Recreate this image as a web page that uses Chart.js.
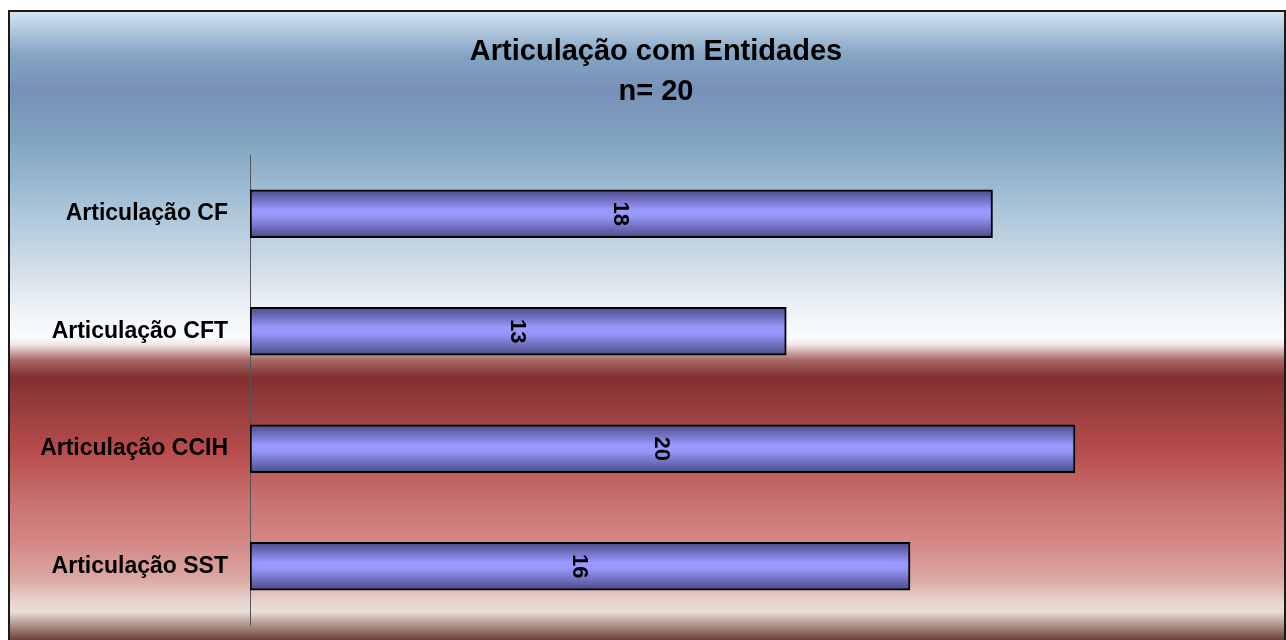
<!DOCTYPE html>
<html>
<head>
<meta charset="utf-8">
<script src="https://cdn.jsdelivr.net/npm/chart.js@4/dist/chart.umd.min.js"></script>
<style>
html,body{margin:0;padding:0;background:#fff;}
#wrap{width:1286px;height:640px;}
</style>
</head>
<body>
<div id="wrap"><canvas id="c" width="1286" height="640"></canvas></div>
<script>
const categories = ['Articulação CF', 'Articulação CFT', 'Articulação CCIH', 'Articulação SST'];
const values = [18, 13, 20, 16];
const titleLines = ['Articulação com Entidades', 'n= 20'];

const bgStops = [
  [11,'#d6e6f2'],[30,'#b2c8dc'],[55,'#84a4c4'],[90,'#7890b8'],[140,'#80a4c0'],
  [200,'#a4c0d6'],[260,'#ccdae6'],[310,'#eef2f6'],[338,'#fafcfe'],[345,'#f0e4e4'],
  [360,'#a86868'],[377,'#823030'],[420,'#a04242'],[450,'#b84c4c'],[500,'#c87070'],
  [545,'#d48a88'],[580,'#dcaaa4'],[603,'#e8d6d0'],[612,'#e8dcd6'],[625,'#b0948c'],[640,'#6c4038']
];

const FONT = '"Liberation Sans", Arial, sans-serif';

const bgPlugin = {
  id: 'bg',
  beforeDraw(chart) {
    const ctx = chart.ctx;
    ctx.save();
    ctx.fillStyle = '#ffffff';
    ctx.fillRect(0, 0, chart.width, chart.height);
    const g = ctx.createLinearGradient(0, 11, 0, 640);
    bgStops.forEach(s => g.addColorStop((s[0] - 11) / 629, s[1]));
    ctx.fillStyle = g;
    ctx.fillRect(9, 11, chart.width - 9, chart.height - 11);
    ctx.strokeStyle = '#1a1a1a';
    ctx.lineWidth = 2;
    ctx.beginPath();
    ctx.moveTo(9, 640); ctx.lineTo(9, 11); ctx.lineTo(1285, 11); ctx.lineTo(1285, 640);
    ctx.stroke();
    ctx.restore();
  },
  afterLayout(chart) {
    if (chart.titleBlock) { chart.titleBlock.left = 72; }
  }
};

const labelPlugin = {
  id: 'rotLabels',
  afterDatasetsDraw(chart) {
    const ctx = chart.ctx;
    const meta = chart.getDatasetMeta(0);
    ctx.save();
    ctx.font = 'bold 22px ' + FONT;
    ctx.fillStyle = '#000';
    ctx.textAlign = 'center';
    ctx.textBaseline = 'middle';
    meta.data.forEach((el, i) => {
      const cx = (el.x + el.base) / 2;
      ctx.save();
      ctx.translate(cx, el.y);
      ctx.rotate(Math.PI / 2);
      ctx.fillText(String(values[i]), 0, 1);
      ctx.restore();
    });
    ctx.restore();
  }
};

const BAR_T = 48;
function barFill(c) {
  const chart = c.chart;
  if (!chart.chartArea || !chart.scales.y) return '#9999ff';
  const y = chart.scales.y.getPixelForValue(c.dataIndex);
  const g = chart.ctx.createLinearGradient(0, y - BAR_T / 2, 0, y + BAR_T / 2);
  g.addColorStop(0, '#4a4a86');
  g.addColorStop(0.42, '#9999ff');
  g.addColorStop(0.55, '#9797fb');
  g.addColorStop(1, '#4a4a86');
  return g;
}

new Chart(document.getElementById('c'), {
  type: 'bar',
  data: {
    labels: categories,
    datasets: [{
      data: values,
      backgroundColor: barFill,
      borderColor: '#000000',
      borderWidth: 2,
      borderSkipped: false,
      barThickness: BAR_T
    }]
  },
  options: {
    indexAxis: 'y',
    responsive: false,
    animation: false,
    devicePixelRatio: 1,
    layout: { padding: { left: 8, top: 10, right: 46, bottom: 15 } },
    plugins: {
      legend: { display: false },
      tooltip: { enabled: false },
      title: {
        display: true,
        text: titleLines,
        color: '#000',
        font: { family: FONT, size: 29, weight: 'bold', lineHeight: 40 / 29 },
        padding: { top: 22, bottom: 43 }
      }
    },
    scales: {
      x: {
        display: false,
        min: 0,
        max: 24
      },
      y: {
        grid: { display: false, drawTicks: false },
        border: { display: true, color: '#555555', width: 1 },
        ticks: {
          color: '#000',
          font: { family: FONT, size: 23, weight: 'bold' },
          padding: 22
        },
        afterFit(scale) {
          scale.width = 242;
          scale.paddingTop = 0;
          scale.paddingBottom = 0;
        }
      }
    }
  },
  plugins: [bgPlugin, labelPlugin]
});
</script>
</body>
</html>
